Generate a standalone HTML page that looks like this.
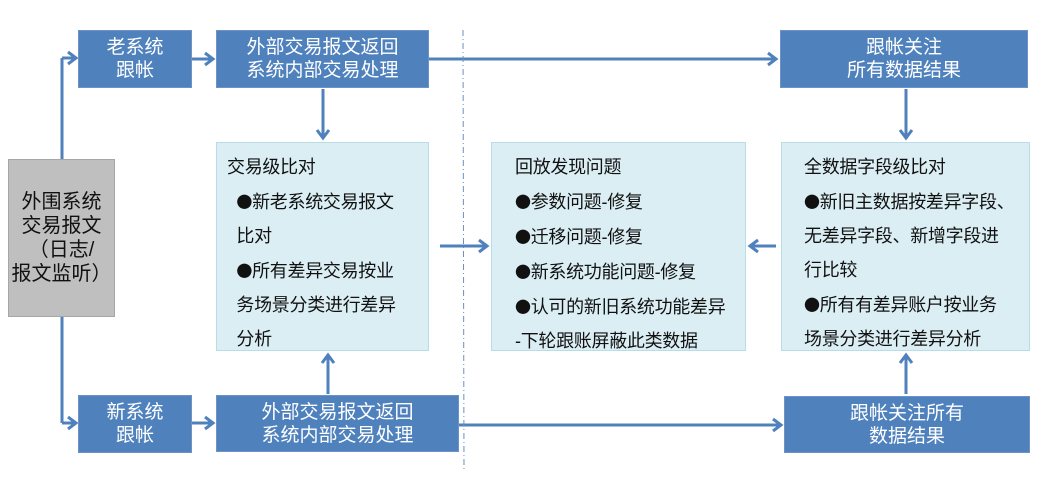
<!DOCTYPE html>
<html><head><meta charset="utf-8"><style>
body{margin:0;width:1044px;height:498px;background:#fff;position:relative;overflow:hidden;font-family:"Liberation Sans","Noto Sans CJK SC",sans-serif}
.b{position:absolute;background:#4f81bd;color:#fff;font-size:19px;line-height:23px;text-align:center;display:flex;align-items:center;justify-content:center;box-sizing:border-box;border:1px solid #6b93c6}
.l{position:absolute;background:#dbeef4;border:1px solid #b8dde8;box-sizing:border-box;color:#111;font-size:18px;line-height:34px;padding:7px 0 0 10px;white-space:nowrap;letter-spacing:-0.3px}
.l i{font-style:normal;font-family:"Noto Sans CJK SC",sans-serif;font-size:16px}
.g{position:absolute;background:#bfbfbf;border:1px solid #a6a6a6;box-sizing:border-box;font-size:20px;line-height:24px;color:#111;text-align:center;display:flex;align-items:center;justify-content:center}
svg{position:absolute;left:0;top:0}
</style></head><body>
<svg width="1044" height="498">
<g stroke="#4f81bd" stroke-width="3" fill="none">
<line x1="62" y1="159" x2="62" y2="58"/><line x1="62" y1="58" x2="76" y2="58"/><polyline points="68,52 76,58 68,64"/>
<line x1="62" y1="317" x2="62" y2="423"/><line x1="62" y1="423" x2="76" y2="423"/><polyline points="68,417 76,423 68,429"/>
<line x1="192" y1="59" x2="213" y2="59"/><polyline points="205,53 213,59 205,65"/>
<line x1="192" y1="423" x2="213" y2="423"/><polyline points="205,417 213,423 205,429"/>
<line x1="429" y1="59" x2="776" y2="59"/><polyline points="768,53 776,59 768,65"/>
<line x1="459" y1="425" x2="781" y2="425"/><polyline points="773,419 781,425 773,431"/>
<line x1="323" y1="89" x2="323" y2="138"/><polyline points="317,130 323,138 329,130"/>
<line x1="328" y1="394" x2="328" y2="355"/><polyline points="322,363 328,355 334,363"/>
<line x1="906" y1="89" x2="906" y2="138"/><polyline points="900,130 906,138 912,130"/>
<line x1="906" y1="394" x2="906" y2="355"/><polyline points="900,363 906,355 912,363"/>
<line x1="440" y1="246" x2="487" y2="246"/><polyline points="479,240 487,246 479,252"/>
<line x1="776" y1="246" x2="750" y2="246"/><polyline points="758,240 750,246 758,252"/>
</g>
<line x1="463" y1="30" x2="464" y2="472" stroke="#6b8fc0" stroke-width="1" stroke-dasharray="6,3,1,3"/>
</svg>
<div class="g" style="left:8px;top:159px;width:107px;height:158px">外围系统<br>交易报文<br>（日志/<br>报文监听）</div>
<div class="b" style="left:78px;top:30px;width:114px;height:58px">老系统<br>跟帐</div>
<div class="b" style="left:216px;top:30px;width:213px;height:58px">外部交易报文返回<br>系统内部交易处理</div>
<div class="b" style="left:780px;top:30px;width:248px;height:58px">跟帐关注<br>所有数据结果</div>
<div class="b" style="left:78px;top:395px;width:114px;height:58px">新系统<br>跟帐</div>
<div class="b" style="left:216px;top:395px;width:243px;height:57px">外部交易报文返回<br>系统内部交易处理</div>
<div class="b" style="left:784px;top:396px;width:246px;height:57px">跟帐关注所有<br>数据结果</div>
<div class="l" style="left:216px;top:142px;width:213px;height:209px">交易级比对<br>&nbsp;&nbsp;<i>●</i>新老系统交易报文<br>&nbsp;&nbsp;比对<br>&nbsp;&nbsp;<i>●</i>所有差异交易按业<br>&nbsp;&nbsp;务场景分类进行差异<br>&nbsp;&nbsp;分析</div>
<div class="l" style="left:491px;top:142px;width:255px;height:209px;padding-left:23px">回放发现问题<br><i>●</i>参数问题-修复<br><i>●</i>迁移问题-修复<br><i>●</i>新系统功能问题-修复<br><i>●</i>认可的新旧系统功能差异<br>-下轮跟账屏蔽此类数据</div>
<div class="l" style="left:781px;top:142px;width:249px;height:209px;padding-left:22px">全数据字段级比对<br><i>●</i>新旧主数据按差异字段、<br>无差异字段、新增字段进<br>行比较<br><i>●</i>所有有差异账户按业务<br>场景分类进行差异分析</div>
</body></html>
